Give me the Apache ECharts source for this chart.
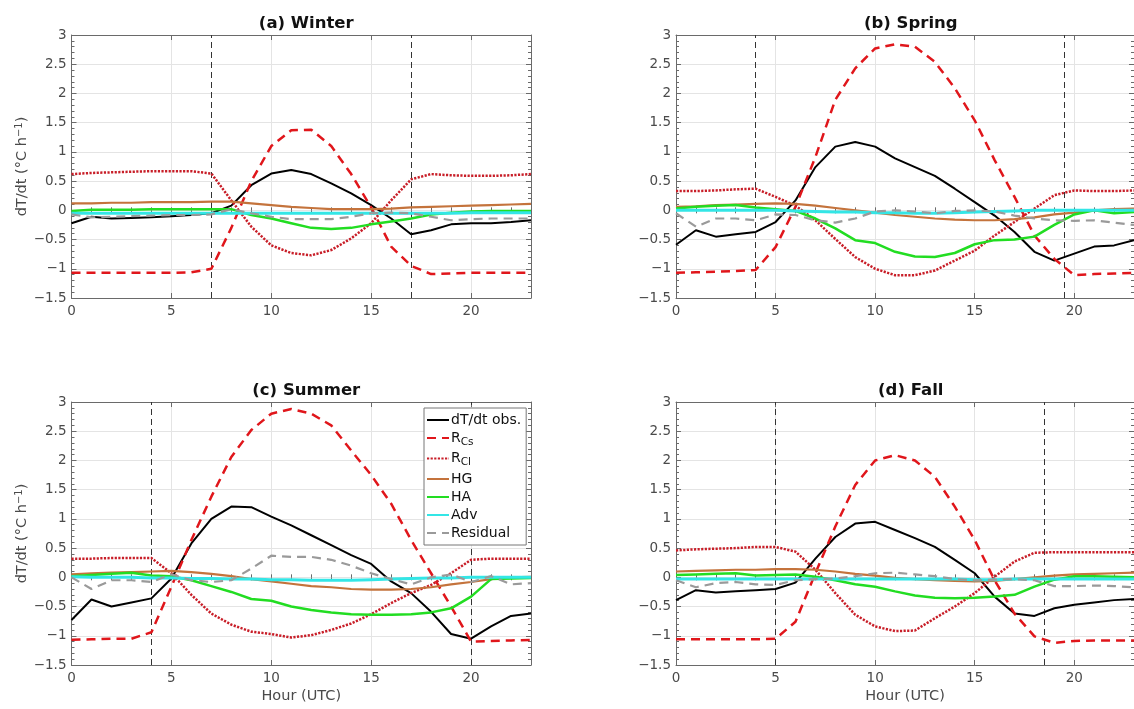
<!DOCTYPE html>
<html>
<head>
<meta charset="utf-8">
<script src="https://cdn.jsdelivr.net/npm/echarts@6/dist/echarts.min.js"></script>
<style>
html,body{margin:0;padding:0;background:#fff;}
#chart{width:1134px;height:709px;}
</style>
</head>
<body>
<div id="chart"></div>
<script>
// ---------- DATA ----------
const hours = [0,1,2,3,4,5,6,7,8,9,10,11,12,13,14,15,16,17,18,19,20,21,22,23];
const seriesNames = ['dT/dt obs.', 'R_Cs', 'R_Cl', 'HG', 'HA', 'Adv', 'Residual'];
const panelTitles = ['(a) Winter', '(b) Spring', '(c) Summer', '(d) Fall'];
const yTicks = [-1.5, -1, -0.5, 0, 0.5, 1, 1.5, 2, 2.5, 3];
const xTicks = [0, 5, 10, 15, 20];

// Winter
const winterObs   = [-0.22,-0.11,-0.14,-0.13,-0.12,-0.1,-0.08,-0.05,0.08,0.43,0.63,0.69,0.62,0.46,0.29,0.09,-0.14,-0.41,-0.34,-0.24,-0.22,-0.22,-0.2,-0.17];
const winterRcs   = [-1.07,-1.07,-1.07,-1.07,-1.07,-1.07,-1.06,-1.0,-0.3,0.5,1.1,1.37,1.38,1.1,0.62,0.05,-0.62,-0.95,-1.09,-1.08,-1.07,-1.07,-1.07,-1.07];
const winterRcl   = [0.62,0.64,0.65,0.66,0.67,0.67,0.67,0.63,0.17,-0.28,-0.6,-0.73,-0.77,-0.68,-0.48,-0.22,0.17,0.53,0.62,0.6,0.59,0.59,0.6,0.62];
const winterHG    = [0.12,0.12,0.13,0.13,0.14,0.14,0.14,0.15,0.15,0.12,0.09,0.06,0.04,0.02,0.02,0.02,0.03,0.05,0.06,0.07,0.08,0.09,0.1,0.11];
const winterHA    = [-0.01,0.01,0.01,0.01,0.02,0.02,0.02,0.02,0.02,-0.08,-0.14,-0.22,-0.3,-0.32,-0.3,-0.24,-0.19,-0.14,-0.07,-0.04,-0.02,-0.01,-0.01,-0.01];
const winterAdv   = [-0.05,-0.05,-0.05,-0.05,-0.05,-0.05,-0.05,-0.05,-0.05,-0.05,-0.05,-0.05,-0.05,-0.05,-0.05,-0.05,-0.05,-0.05,-0.05,-0.05,-0.04,-0.04,-0.04,-0.04];
const winterRes   = [-0.07,-0.12,-0.11,-0.1,-0.09,-0.08,-0.08,-0.07,0.02,-0.05,-0.11,-0.15,-0.15,-0.15,-0.11,-0.05,-0.04,-0.05,-0.11,-0.17,-0.15,-0.14,-0.14,-0.14];

// Spring
const springObs   = [-0.59,-0.34,-0.45,-0.41,-0.37,-0.2,0.17,0.74,1.09,1.17,1.09,0.89,0.74,0.59,0.37,0.14,-0.09,-0.37,-0.71,-0.86,-0.74,-0.62,-0.6,-0.51];
const springRcs   = [-1.07,-1.06,-1.05,-1.04,-1.02,-0.63,0.06,0.91,1.89,2.43,2.77,2.84,2.8,2.54,2.09,1.54,0.86,0.23,-0.43,-0.83,-1.11,-1.09,-1.08,-1.07];
const springRcl   = [0.33,0.33,0.34,0.36,0.37,0.23,0.08,-0.17,-0.49,-0.8,-1.0,-1.11,-1.11,-1.03,-0.86,-0.69,-0.43,-0.2,0.03,0.26,0.34,0.33,0.33,0.34];
const springHG    = [0.06,0.07,0.09,0.1,0.11,0.12,0.11,0.08,0.04,0.0,-0.04,-0.08,-0.11,-0.14,-0.16,-0.17,-0.17,-0.15,-0.12,-0.07,-0.04,0.0,0.02,0.03];
const springHA    = [0.03,0.06,0.08,0.09,0.05,0.02,-0.01,-0.14,-0.31,-0.51,-0.56,-0.71,-0.79,-0.8,-0.73,-0.58,-0.51,-0.5,-0.45,-0.25,-0.07,0.0,-0.05,-0.03];
const springAdv   = [0.0,0.0,0.0,0.0,0.0,0.0,-0.01,-0.02,-0.03,-0.03,-0.04,-0.04,-0.05,-0.05,-0.04,-0.03,-0.02,-0.01,0.0,0.0,0.0,0.0,0.0,0.0];
const springRes   = [-0.05,-0.28,-0.14,-0.14,-0.17,-0.07,-0.08,-0.17,-0.21,-0.14,-0.02,0.0,-0.02,-0.05,-0.01,0.0,-0.02,-0.09,-0.14,-0.17,-0.18,-0.17,-0.21,-0.25];

// Summer
const summerObs   = [-0.73,-0.38,-0.5,-0.43,-0.36,-0.02,0.58,1.0,1.21,1.2,1.04,0.89,0.72,0.55,0.38,0.23,-0.07,-0.27,-0.59,-0.97,-1.05,-0.84,-0.66,-0.62];
const summerRcs   = [-1.07,-1.06,-1.05,-1.05,-0.94,-0.16,0.64,1.38,2.06,2.52,2.8,2.88,2.8,2.6,2.17,1.75,1.26,0.64,0.07,-0.5,-1.1,-1.09,-1.08,-1.07];
const summerRcl   = [0.32,0.32,0.33,0.33,0.33,0.07,-0.3,-0.62,-0.81,-0.93,-0.97,-1.03,-0.99,-0.9,-0.79,-0.63,-0.44,-0.27,-0.13,0.07,0.3,0.32,0.32,0.32];
const summerHG    = [0.05,0.07,0.08,0.09,0.1,0.11,0.09,0.06,0.02,-0.03,-0.07,-0.11,-0.15,-0.17,-0.2,-0.21,-0.21,-0.2,-0.17,-0.12,-0.08,-0.03,0.0,0.01];
const summerHA    = [0.02,0.04,0.06,0.08,0.03,0.02,-0.05,-0.15,-0.25,-0.37,-0.4,-0.5,-0.56,-0.6,-0.63,-0.64,-0.64,-0.63,-0.6,-0.53,-0.33,-0.03,-0.02,-0.01];
const summerAdv   = [0.01,0.0,0.0,0.0,-0.01,-0.01,-0.02,-0.02,-0.03,-0.03,-0.04,-0.04,-0.05,-0.05,-0.05,-0.04,-0.03,-0.02,-0.01,-0.01,0.0,0.0,0.0,0.0];
const summerRes   = [0.0,-0.2,-0.05,-0.05,-0.08,0.05,-0.05,-0.08,-0.05,0.15,0.37,0.35,0.35,0.3,0.2,0.07,-0.03,-0.12,0.0,0.05,-0.08,0.02,-0.12,-0.1];

// Fall
const fallObs     = [-0.39,-0.22,-0.26,-0.24,-0.22,-0.2,-0.09,0.32,0.69,0.92,0.95,0.81,0.67,0.52,0.3,0.07,-0.33,-0.62,-0.66,-0.53,-0.47,-0.43,-0.39,-0.37];
const fallRcs     = [-1.06,-1.06,-1.06,-1.06,-1.06,-1.05,-0.76,0.07,0.87,1.58,2.0,2.09,2.0,1.72,1.21,0.64,-0.05,-0.62,-1.01,-1.12,-1.09,-1.08,-1.08,-1.08];
const fallRcl     = [0.46,0.48,0.49,0.5,0.52,0.52,0.44,0.13,-0.27,-0.64,-0.84,-0.92,-0.91,-0.7,-0.5,-0.27,0.01,0.27,0.42,0.43,0.43,0.43,0.43,0.43];
const fallHG      = [0.1,0.11,0.12,0.13,0.13,0.14,0.14,0.13,0.1,0.06,0.03,-0.01,-0.03,-0.05,-0.06,-0.07,-0.06,-0.03,0.0,0.03,0.05,0.06,0.07,0.08];
const fallHA      = [0.04,0.05,0.06,0.07,0.03,0.04,0.05,0.01,-0.05,-0.12,-0.16,-0.24,-0.31,-0.35,-0.36,-0.35,-0.33,-0.3,-0.16,-0.04,0.02,0.02,0.01,0.0];
const fallAdv     = [-0.03,-0.03,-0.03,-0.03,-0.03,-0.03,-0.03,-0.03,-0.03,-0.03,-0.03,-0.03,-0.03,-0.03,-0.03,-0.04,-0.04,-0.03,-0.03,-0.03,-0.03,-0.03,-0.03,-0.03];
const fallRes     = [-0.05,-0.17,-0.1,-0.08,-0.12,-0.13,-0.05,-0.03,-0.02,0.02,0.07,0.08,0.05,0.02,-0.03,-0.05,-0.04,-0.03,-0.05,-0.15,-0.15,-0.14,-0.15,-0.17];

// sunrise / sunset markers (hour UTC)
const winterSun = [7, 17];
const springSun = [4, 19.5];
const summerSun = [4, 20];
const fallSun   = [5, 18.5];

// ---------- BUILD ----------
const panels = [
  [winterObs, winterRcs, winterRcl, winterHG, winterHA, winterAdv, winterRes],
  [springObs, springRcs, springRcl, springHG, springHA, springAdv, springRes],
  [summerObs, summerRcs, summerRcl, summerHG, summerHA, summerAdv, summerRes],
  [fallObs, fallRcs, fallRcl, fallHG, fallHA, fallAdv, fallRes]
];
const sunLines = [winterSun, springSun, summerSun, fallSun];

const FONT = 'DejaVu Sans';
const AXC = '#6a6a6a';
const LBL = '#4a4a4a';

const styles = [
  {color: '#000000', width: 2, type: 'solid'},
  {color: '#e0161b', width: 2.5, type: [9, 6]},
  {color: '#c81e28', width: 2.5, type: [2.2, 1.4]},
  {color: '#c4733c', width: 2.2, type: 'solid'},
  {color: '#22dd22', width: 2.5, type: 'solid'},
  {color: '#33e6e6', width: 3, type: 'solid'},
  {color: '#9a9a9a', width: 2.2, type: [9, 6]}
];

const gridPos = [
  {left: 71.5, top: 35},
  {left: 676, top: 35},
  {left: 71.5, top: 402},
  {left: 676, top: 402}
];
const GW = 459.5, GH = 263;

const grids = [], xAxes = [], yAxes = [], series = [], titles = [];

gridPos.forEach((g, p) => {
  grids.push({left: g.left, top: g.top, width: GW, height: GH, containLabel: false});
  titles.push({
    text: panelTitles[p], left: g.left + GW / 2, top: g.top - 25, textAlign: 'center',
    textStyle: {fontFamily: FONT, fontSize: 16.5, fontWeight: 'bold', color: '#111'}
  });
  const bottom = p >= 2;
  const left = p % 2 === 0;
  const xBase = xAxes.length;
  // bottom major
  xAxes.push({
    type: 'value', gridIndex: p, min: xTicks[0], max: hours[hours.length - 1], interval: 5,
    axisLine: {show: true, onZero: false, lineStyle: {color: AXC, width: 1}},
    axisTick: {show: true, inside: true, length: 5, lineStyle: {color: AXC}},
    axisLabel: {show: true, color: LBL, fontFamily: FONT, fontSize: 13.5, margin: 6, showMaxLabel: false},
    splitLine: {show: true, lineStyle: {color: '#e4e4e4', width: 1}},
    name: bottom ? 'Hour (UTC)' : '', nameLocation: 'middle', nameGap: 24,
    nameTextStyle: {fontFamily: FONT, fontSize: 14.5, color: LBL}
  });
  // bottom minor
  xAxes.push({
    type: 'value', gridIndex: p, min: 0, max: 23, interval: 1, position: 'bottom',
    axisLine: {show: false}, axisLabel: {show: false}, splitLine: {show: false},
    axisTick: {show: true, inside: true, length: 3, lineStyle: {color: AXC}}
  });
  // top major
  xAxes.push({
    type: 'value', gridIndex: p, min: 0, max: 23, interval: 5, position: 'top',
    axisLine: {show: true, onZero: false, lineStyle: {color: AXC, width: 1}},
    axisLabel: {show: false}, splitLine: {show: false},
    axisTick: {show: true, inside: true, length: 5, lineStyle: {color: AXC}}
  });
  // top minor
  xAxes.push({
    type: 'value', gridIndex: p, min: 0, max: 23, interval: 1, position: 'top',
    axisLine: {show: false}, axisLabel: {show: false}, splitLine: {show: false},
    axisTick: {show: true, inside: true, length: 3, lineStyle: {color: AXC}}
  });
  const yBase = yAxes.length;
  yAxes.push({
    type: 'value', gridIndex: p, min: yTicks[0], max: yTicks[yTicks.length - 1], interval: 0.5, position: 'left',
    axisLine: {show: true, onZero: false, lineStyle: {color: AXC, width: 1}},
    axisTick: {show: true, inside: true, length: 5, lineStyle: {color: AXC}},
    minorTick: {show: true, splitNumber: 5, length: 3, lineStyle: {color: AXC}},
    axisLabel: {show: true, color: LBL, fontFamily: FONT, fontSize: 13.5, margin: 5,
      formatter: v => String(v).replace('-', '\u2212')},
    splitLine: {show: true, lineStyle: {color: '#e4e4e4', width: 1}},
    name: left ? 'dT/dt (°C h{sup|\u22121})' : '', nameLocation: 'middle', nameGap: 40, nameRotate: 90,
    nameTextStyle: {fontFamily: FONT, fontSize: 14.5, color: LBL,
      rich: {sup: {fontFamily: FONT, fontSize: 10, color: LBL, verticalAlign: 'top', padding: [0, 0, 6, 0]}}}
  });
  yAxes.push({
    type: 'value', gridIndex: p, min: -1.5, max: 3, interval: 0.5, position: 'right',
    axisLine: {show: true, onZero: false, lineStyle: {color: AXC, width: 1}},
    axisTick: {show: true, inside: true, length: 5, lineStyle: {color: AXC}},
    minorTick: {show: true, splitNumber: 5, length: 3, lineStyle: {color: AXC}},
    axisLabel: {show: false}, splitLine: {show: false}
  });

  // vertical dashed sunrise/sunset lines
  series.push({
    type: 'line', xAxisIndex: xBase, yAxisIndex: yBase, data: [], z: 1, silent: true,
    markLine: {
      silent: true, symbol: 'none', animation: false, z: 1,
      label: {show: false},
      lineStyle: {color: '#333', width: 1, type: [6, 4]},
      emphasis: {disabled: true},
      data: sunLines[p].map(h => ({xAxis: h}))
    }
  });

  panels[p].forEach((vals, k) => {
    const st = styles[k];
    series.push({
      name: seriesNames[k], type: 'line', xAxisIndex: xBase, yAxisIndex: yBase,
      data: hours.map((h, i) => [h, vals[i]]),
      showSymbol: false, symbol: 'none', z: 2 + k, silent: true,
      lineStyle: {color: st.color, width: st.width, type: st.type, cap: 'butt'},
      itemStyle: {color: st.color},
      emphasis: {disabled: true}
    });
  });
});

const chart = echarts.init(document.getElementById('chart'), null, {renderer: 'canvas'});
chart.setOption({
  animation: false,
  backgroundColor: '#ffffff',
  title: titles,
  grid: grids,
  xAxis: xAxes,
  yAxis: yAxes,
  legend: {
    data: seriesNames,
    orient: 'vertical',
    left: 424, top: 408, z: 30,
    itemWidth: 22, itemHeight: 10, itemGap: 4,
    padding: [5, 5, 5, 2],
    borderColor: '#777', borderWidth: 1, backgroundColor: '#ffffff',
    selectedMode: false,
    itemStyle: {opacity: 0, borderWidth: 0},
    formatter: n => n === 'R_Cs' ? 'R{sub|Cs}' : (n === 'R_Cl' ? 'R{sub|Cl}' : n),
    textStyle: {
      fontFamily: FONT, fontSize: 14, color: '#111', padding: [0, 0, 0, -3],
      rich: {sub: {fontFamily: FONT, fontSize: 10.5, color: '#111', verticalAlign: 'bottom', padding: [8, 0, 0, 0]}}
    }
  },
  series: series
});
</script>
</body>
</html>
